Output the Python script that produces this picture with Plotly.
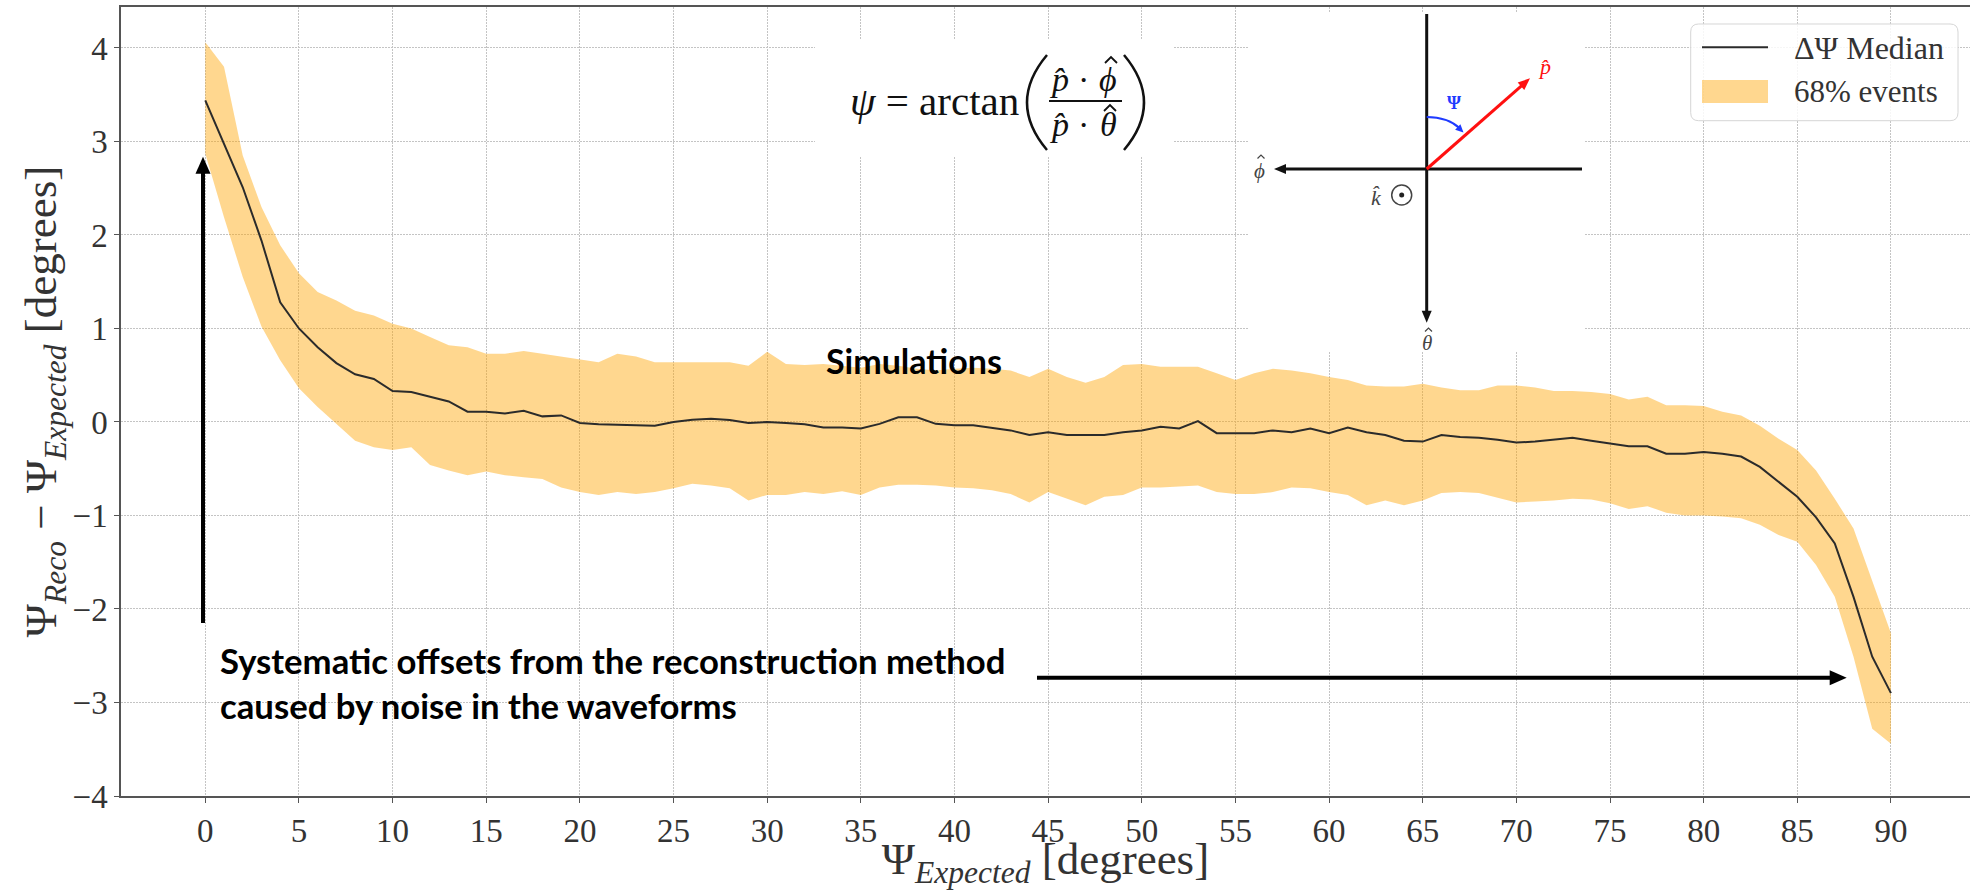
import math
import plotly.graph_objects as go

# ---------------- data ----------------
psi_expected = list(range(0, 91))

median = [3.44, 2.98, 2.51, 1.94, 1.28, 1.00, 0.80, 0.63, 0.51, 0.46,
          0.33, 0.32, 0.27, 0.22, 0.11, 0.11, 0.09, 0.12, 0.06, 0.07,
          -0.01, -0.025, -0.03, -0.035, -0.04, 0.0, 0.025, 0.035, 0.02, -0.01,
          0.0, -0.01, -0.025, -0.06, -0.06, -0.07, -0.02, 0.05, 0.05, -0.02,
          -0.035, -0.035, -0.06, -0.09, -0.14, -0.11, -0.14, -0.14, -0.14, -0.11,
          -0.09, -0.05, -0.07, 0.01, -0.12, -0.12, -0.12, -0.09, -0.11, -0.07,
          -0.12, -0.06, -0.11, -0.14, -0.20, -0.21, -0.14, -0.16, -0.17, -0.19,
          -0.22, -0.21, -0.19, -0.17, -0.20, -0.23, -0.26, -0.26, -0.34, -0.34,
          -0.32, -0.34, -0.37, -0.48, -0.64, -0.80, -1.02, -1.30, -1.87, -2.51,
          -2.90]

upper = [4.06, 3.80, 2.85, 2.30, 1.89, 1.59, 1.39, 1.30, 1.19, 1.14,
         1.05, 1.00, 0.91, 0.82, 0.80, 0.73, 0.73, 0.76, 0.73, 0.70,
         0.67, 0.64, 0.73, 0.70, 0.64, 0.64, 0.64, 0.64, 0.64, 0.60,
         0.75, 0.62, 0.61, 0.62, 0.60, 0.58, 0.62, 0.60, 0.57, 0.55,
         0.57, 0.58, 0.57, 0.55, 0.48, 0.57, 0.48, 0.42, 0.48, 0.61,
         0.62, 0.59, 0.59, 0.59, 0.52, 0.45, 0.52, 0.57, 0.55, 0.52,
         0.48, 0.45, 0.39, 0.38, 0.38, 0.41, 0.37, 0.34, 0.34, 0.39,
         0.39, 0.37, 0.33, 0.33, 0.32, 0.30, 0.24, 0.27, 0.18, 0.18,
         0.17, 0.11, 0.07, -0.04, -0.18, -0.30, -0.52, -0.82, -1.14, -1.69,
         -2.26]

lower = [2.87, 2.19, 1.55, 1.02, 0.66, 0.36, 0.16, -0.02, -0.20, -0.27,
         -0.30, -0.27, -0.46, -0.52, -0.57, -0.53, -0.57, -0.59, -0.61, -0.70,
         -0.75, -0.78, -0.75, -0.77, -0.75, -0.71, -0.66, -0.68, -0.71, -0.84,
         -0.78, -0.78, -0.75, -0.77, -0.74, -0.78, -0.70, -0.67, -0.67, -0.68,
         -0.70, -0.71, -0.73, -0.77, -0.86, -0.75, -0.82, -0.89, -0.80, -0.78,
         -0.70, -0.70, -0.69, -0.68, -0.75, -0.77, -0.77, -0.75, -0.70, -0.71,
         -0.75, -0.78, -0.89, -0.84, -0.89, -0.84, -0.76, -0.75, -0.76, -0.81,
         -0.86, -0.85, -0.84, -0.82, -0.83, -0.87, -0.93, -0.90, -0.97, -1.00,
         -1.00, -1.01, -1.03, -1.10, -1.21, -1.28, -1.53, -1.87, -2.51, -3.28,
         -3.44]

x_tick_vals = list(range(0, 91, 5))
x_tick_text = [str(v) for v in x_tick_vals]
y_tick_vals = [-4, -3, -2, -1, 0, 1, 2, 3, 4]
y_tick_text = ["\u22124", "\u22123", "\u22122", "\u22121", "0", "1", "2", "3", "4"]

legend_labels = ["\u0394\u03a8 Median", "68% events"]

# ---------------- layout helpers (pixel -> paper) ----------------
W, H = 1970, 890
ML, MR, MT, MB = 121, 0, 7, 94
PW = W - ML - MR
PH = H - MT - MB


def X(px):
    return (px - ML) / PW


def Y(py):
    return (MT + PH - py) / PH


SERIF = "Liberation Serif"
SANS = "Lato"
BAND = "rgba(255,165,0,0.44)"
AX = "#555555"
TXT = "#333333"

fig = go.Figure()

fig.add_trace(go.Scatter(x=psi_expected, y=lower, mode="lines",
                         line=dict(width=0), hoverinfo="skip",
                         showlegend=False, name="lower"))
fig.add_trace(go.Scatter(x=psi_expected, y=upper, mode="lines",
                         line=dict(width=0), fill="tonexty", fillcolor=BAND,
                         name=legend_labels[1], showlegend=False))
fig.add_trace(go.Scatter(x=psi_expected, y=median, mode="lines",
                         line=dict(color="#2b2b2b", width=2),
                         name=legend_labels[0], showlegend=False))

grid = dict(showgrid=True, gridcolor="#c4c4c4", gridwidth=1, griddash="2px,1px")

fig.update_xaxes(range=[-4.5, 94.22], tickmode="array", tickvals=x_tick_vals,
                 ticktext=x_tick_text, ticks="outside", ticklen=5, tickwidth=1.3,
                 tickcolor=AX, showline=True, linecolor=AX, linewidth=1.5,
                 mirror=True, zeroline=False,
                 tickfont=dict(family=SERIF, size=33, color=TXT),
                 title=dict(text="\u03a8<sub><i>Expected</i></sub> [degrees]",
                            font=dict(family=SERIF, size=45, color=TXT),
                            standoff=4),
                 **grid)
fig.update_yaxes(range=[-4, 4.438], tickmode="array", tickvals=y_tick_vals,
                 ticktext=y_tick_text, ticks="outside", ticklen=5, tickwidth=1.3,
                 tickcolor=AX, showline=True, linecolor=AX, linewidth=1.5,
                 mirror=False, zeroline=False,
                 tickfont=dict(family=SERIF, size=33, color=TXT),
                 title=dict(text="\u03a8<sub><i>Reco</i></sub> \u2212 \u03a8<sub><i>Expected</i></sub> [degrees]",
                            font=dict(family=SERIF, size=45, color=TXT),
                            standoff=0),
                 **grid)

shapes = []
annotations = []


def rect(x0, y0, x1, y1, fill, line_color=None, lw=0):
    shapes.append(dict(type="rect", xref="paper", yref="paper", layer="above",
                       x0=X(x0), x1=X(x1), y0=Y(y1), y1=Y(y0),
                       fillcolor=fill,
                       line=dict(width=lw, color=line_color or fill)))


def seg(x0, y0, x1, y1, color, lw):
    shapes.append(dict(type="line", xref="paper", yref="paper", layer="above",
                       x0=X(x0), y0=Y(y0), x1=X(x1), y1=Y(y1),
                       line=dict(color=color, width=lw)))


def path(cmd, color, lw, fill=None):
    shapes.append(dict(type="path", xref="paper", yref="paper", layer="above",
                       path=cmd, fillcolor=fill,
                       line=dict(color=color, width=lw)))


def P(px, py):
    return f"{X(px):.6f},{Y(py):.6f}"


def hat(cx, apex_y, half_w, h, color, lw):
    path(f"M {P(cx - half_w, apex_y + h)} L {P(cx, apex_y)} L {P(cx + half_w, apex_y + h)}",
         color, lw)


def head(tip_x, tip_y, ux, uy, length, half_w, color):
    bx, by = tip_x - ux * length, tip_y - uy * length
    nx, ny = -uy, ux
    path(f"M {P(tip_x, tip_y)} L {P(bx + nx * half_w, by + ny * half_w)} "
         f"L {P(bx - nx * half_w, by - ny * half_w)} Z", color, 0, color)


def arrow(tip_x, tip_y, tail_x, tail_y, color, lw, length, half_w):
    dx, dy = tip_x - tail_x, tip_y - tail_y
    d = math.hypot(dx, dy)
    ux, uy = dx / d, dy / d
    seg(tail_x, tail_y, tip_x - ux * (length - 1), tip_y - uy * (length - 1), color, lw)
    head(tip_x, tip_y, ux, uy, length, half_w, color)


def label(px, py, text, size, color="#000", family=SERIF, xanchor="center"):
    annotations.append(dict(xref="paper", yref="paper", x=X(px), y=Y(py),
                            text=text, showarrow=False, xanchor=xanchor,
                            yanchor="middle",
                            font=dict(family=family, size=size, color=color)))


# ---- white backgrounds of pasted inset items ----
rect(815, 40, 1174, 157, "white")
rect(1248, 12, 1584, 352, "white")

# ---- formula  psi = arctan( p.phi / p.theta ) ----
FC = "#111111"
PHI = "\u03d5"
label(1021, 101, "<i>\u03c8</i> = arctan", 41, FC, xanchor="right")
path(f"M {P(1047, 55)} Q {P(1007, 102.5)} {P(1047, 150)}", FC, 2.5)
path(f"M {P(1124, 55)} Q {P(1164, 102.5)} {P(1124, 150)}", FC, 2.5)
# numerator
label(1059, 79, "<i>p\u0302</i>", 34, FC)
label(1083, 79, "\u00b7", 34, FC)
label(1108, 79, f"<i>{PHI}</i>", 34, FC)
hat(1111, 57, 6, 6, FC, 1.8)
seg(1049, 101, 1122, 101, FC, 2)
# denominator
label(1059, 124, "<i>p\u0302</i>", 34, FC)
label(1083, 124, "\u00b7", 34, FC)
label(1108, 124, "<i>\u03b8</i>", 34, FC)
hat(1110, 105, 6, 6, FC, 1.8)

# ---- coordinate diagram ----
arrow(1426.7, 322.7, 1426.7, 14, "#111", 3, 12, 5)
seg(1426.7, 169, 1582, 169, "#111", 3)
arrow(1274, 169, 1426.7, 169, "#111", 3, 12, 5)
arrow(1530, 78.3, 1426.7, 169, "#ff1010", 3, 12, 5)
path(f"M {P(1426.7, 117)} Q {P(1447.8, 117)} {P(1460, 128.5)}", "#1f3bff", 2)
tx, ty = 37.3, 36.3
tn = math.hypot(tx, ty)
head(1463.5, 132.5, tx / tn, ty / tn, 8, 3.8, "#1f3bff")
label(1454, 103, "<b>\u03a8</b>", 18, "#1f3bff")
label(1544, 67, "<i>p\u0302</i>", 22, "#ff1010")
label(1259, 171, f"<i>{PHI}</i>", 21, "#444")
hat(1261, 155, 3.5, 3.5, "#444", 1.2)
label(1427, 343, "<i>\u03b8</i>", 21, "#444")
hat(1428.5, 328, 3.5, 3.5, "#444", 1.2)
label(1376, 197, "<i>k\u0302</i>", 22, "#444")
shapes.append(dict(type="circle", xref="paper", yref="paper", layer="above",
                   x0=X(1391.7), x1=X(1411.7), y0=Y(205), y1=Y(185),
                   line=dict(color="#444", width=1.5)))
shapes.append(dict(type="circle", xref="paper", yref="paper", layer="above",
                   x0=X(1399.2), x1=X(1404.2), y0=Y(197.5), y1=Y(192.5),
                   fillcolor="#222", line=dict(color="#222", width=0)))

# ---- text annotations & arrows of the slide ----
label(824, 360, "<b>Simulations</b>", 34, "#000", SANS, "left")
label(218, 660, "<b>Systematic offsets from the reconstruction method</b>", 34.7, "#000", SANS, "left")
label(218, 705, "<b>caused by noise in the waveforms</b>", 34.7, "#000", SANS, "left")
arrow(203, 156.7, 203, 623, "#000", 4, 17, 7.5)
arrow(1846.7, 677.7, 1037, 677.7, "#000", 4, 17, 7.5)

# ---- legend (drawn) ----
lx0, ly0, lx1, ly1, r = 1690.7, 24, 1958, 120.7, 8
legend_path = (f"M {P(lx0 + r, ly0)} L {P(lx1 - r, ly0)} Q {P(lx1, ly0)} {P(lx1, ly0 + r)} "
               f"L {P(lx1, ly1 - r)} Q {P(lx1, ly1)} {P(lx1 - r, ly1)} "
               f"L {P(lx0 + r, ly1)} Q {P(lx0, ly1)} {P(lx0, ly1 - r)} "
               f"L {P(lx0, ly0 + r)} Q {P(lx0, ly0)} {P(lx0 + r, ly0)} Z")
path(legend_path, "#d6d6d6", 1, "rgba(255,255,255,0.85)")
seg(1702, 47.3, 1768, 47.3, "#2b2b2b", 2)
rect(1702, 80, 1768, 103, BAND)
label(1792, 48, legend_labels[0], 32, TXT, SERIF, "left")
label(1792, 92, legend_labels[1], 31, TXT, SERIF, "left")

fig.update_layout(width=W, height=H, margin=dict(l=ML, r=MR, t=MT, b=MB),
                  plot_bgcolor="white", paper_bgcolor="white", showlegend=False,
                  shapes=shapes, annotations=annotations)

fig.write_html("out.html")
